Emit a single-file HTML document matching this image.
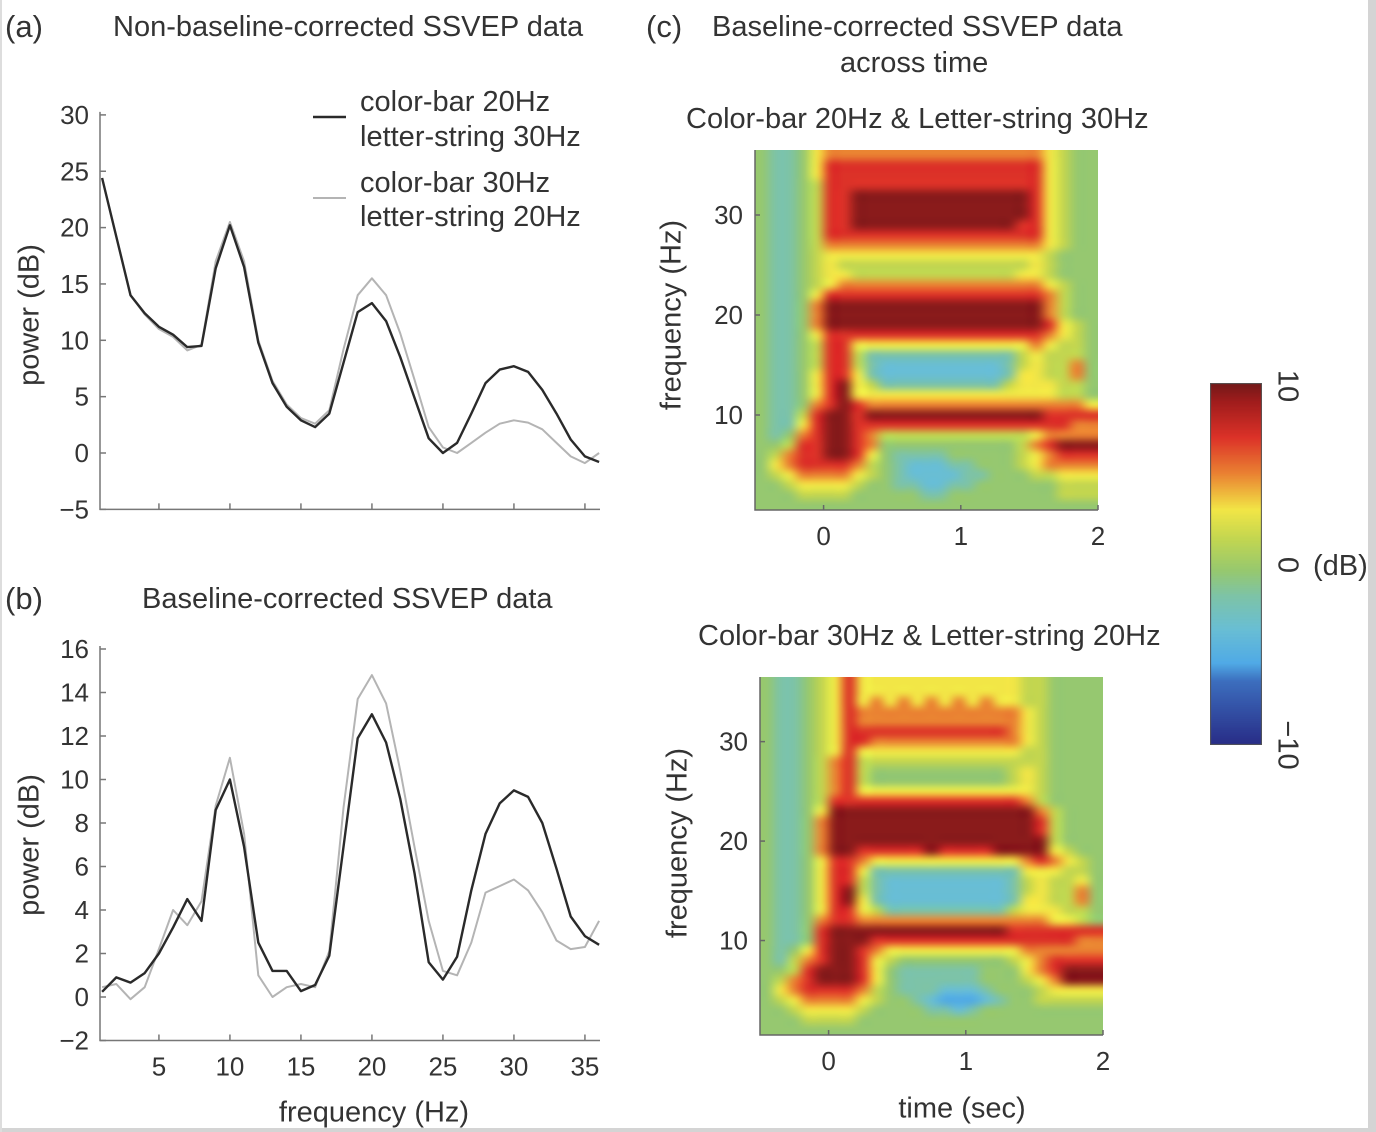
<!DOCTYPE html>
<html><head><meta charset="utf-8">
<style>
body{margin:0;background:#fff;}
#root{position:relative;width:1376px;height:1132px;overflow:hidden;background:#fff;font-family:"Liberation Sans",sans-serif;color:#333;}
.t{position:absolute;white-space:nowrap;font-size:29px;color:#333;}
canvas{position:absolute;}
svg{position:absolute;left:0;top:0;}
</style></head>
<body>
<div id="root">
<div style="position:absolute;left:1368px;top:0;width:8px;height:1132px;background:#d4d4d4"></div>
<div style="position:absolute;left:0;top:1128px;width:1376px;height:4px;background:#d4d4d4"></div>
<div style="position:absolute;left:0;top:0;width:2px;height:1132px;background:#ddd"></div>

<div class="t" style="left:5px;top:9px;font-size:31px">(a)</div>
<div class="t" style="left:113px;top:11px">Non-baseline-corrected SSVEP data</div>
<div class="t" style="left:5px;top:581px;font-size:31px">(b)</div>
<div class="t" style="left:142px;top:583px">Baseline-corrected SSVEP data</div>
<div class="t" style="left:646px;top:9px;font-size:31px">(c)</div>
<div class="t" style="left:712px;top:11px">Baseline-corrected SSVEP data</div>
<div class="t" style="left:840px;top:47px">across time</div>
<div class="t" style="left:686px;top:103px">Color-bar 20Hz &amp; Letter-string 30Hz</div>
<div class="t" style="left:698px;top:620px">Color-bar 30Hz &amp; Letter-string 20Hz</div>

<div class="t" style="left:360px;top:86px">color-bar 20Hz</div>
<div class="t" style="left:360px;top:121px">letter-string 30Hz</div>
<div class="t" style="left:360px;top:167px">color-bar 30Hz</div>
<div class="t" style="left:360px;top:201px">letter-string 20Hz</div>

<div class="t" style="left:30px;top:315px;transform:translate(-50%,-50%) rotate(-90deg)">power (dB)</div>
<div class="t" style="left:30px;top:845px;transform:translate(-50%,-50%) rotate(-90deg)">power (dB)</div>
<div class="t" style="left:374px;top:1113px;transform:translate(-50%,-50%)">frequency (Hz)</div>
<div class="t" style="left:672px;top:315px;transform:translate(-50%,-50%) rotate(-90deg)">frequency (Hz)</div>
<div class="t" style="left:678px;top:843px;transform:translate(-50%,-50%) rotate(-90deg)">frequency (Hz)</div>
<div class="t" style="left:962px;top:1109px;transform:translate(-50%,-50%)">time (sec)</div>

<div class="t" style="left:1287px;top:386px;transform:translate(-50%,-50%) rotate(90deg)">10</div>
<div class="t" style="left:1287px;top:565px;transform:translate(-50%,-50%) rotate(90deg)">0</div>
<div class="t" style="left:1287px;top:745px;transform:translate(-50%,-50%) rotate(90deg)">−10</div>
<div class="t" style="left:1313px;top:550px">(dB)</div>

<canvas id="hm1" width="343" height="360" style="left:755px;top:150px"></canvas>
<canvas id="hm2" width="343" height="358" style="left:760px;top:677px"></canvas>
<canvas id="cbar" width="52" height="362" style="left:1210px;top:383px"></canvas>

<svg id="svg" width="1376" height="1132"></svg>
</div>

<script>
// ---------- Line chart data ----------
const freqs = [1,2,3,4,5,6,7,8,9,10,11,12,13,14,15,16,17,18,19,20,21,22,23,24,25,26,27,28,29,30,31,32,33,34,35,36];
const rawBlack = [24.4,19.2,14.0,12.4,11.2,10.5,9.4,9.5,16.4,20.2,16.5,9.8,6.2,4.1,2.9,2.3,3.5,8.0,12.5,13.3,11.7,8.5,4.9,1.3,0.0,0.9,3.5,6.2,7.4,7.7,7.2,5.6,3.5,1.2,-0.3,-0.8];
const rawGrey  = [24.4,19.2,14.0,12.3,11.0,10.3,9.1,9.6,17.0,20.5,17.0,10.0,6.4,4.3,3.1,2.6,3.8,9.2,14.0,15.5,14.0,10.6,6.5,2.3,0.5,0.0,0.9,1.8,2.6,2.9,2.7,2.1,0.9,-0.3,-0.9,0.0];
const corrBlack = [0.24,0.9,0.66,1.1,2.0,3.2,4.5,3.5,8.6,10.0,6.9,2.5,1.2,1.2,0.27,0.55,1.9,6.9,11.9,13.0,11.7,9.1,5.7,1.6,0.8,1.85,4.9,7.5,8.9,9.5,9.2,8.0,5.9,3.7,2.8,2.4];
const corrGrey  = [0.45,0.6,-0.1,0.45,2.2,4.0,3.3,4.4,8.8,11.0,7.5,1.0,0.0,0.45,0.6,0.45,2.1,8.7,13.7,14.8,13.5,10.4,6.9,3.5,1.2,1.0,2.5,4.8,5.1,5.4,4.9,3.9,2.6,2.2,2.3,3.5];
const xTicks = [5,10,15,20,25,30,35];
const yTicksA = [-5,0,5,10,15,20,25,30];
const yTicksB = [-2,0,2,4,6,8,10,12,14,16];

// ---------- Heatmap data (rows: 36 Hz down to 1 Hz; cols: -0.5..2.0 s in 0.1 s bins; digit = level index into levelDb) ----------
const hmTimes = [-0.5, 2.0];
const hmFreqs = [1, 36];
const levelDb = [-5.5,-3.6,-1.8,-0.4,1.4,3,5,7,9.5];
const heatTop = [
"3223566666666666666665433","3223577777777777777775433","3223577777777777777775433","3223477777777777777775433",
"3223477888888888888875433","3223477888888888888875433","3223477888888888888875433","3223477888888888888775433",
"3223477777777777777775433","3223466666666666666665433","3223455555555555555554333","3223454444444444444454333",
"3223455444444444444554333","3223456666666666666665433","3223577777777777777776433","3223688888888888888886433",
"3223688888888888888886433","3223688888888888888887543","3223577777777777777776543","3223477555555555555565443",
"3223477422222222222454443","3223477421111111112454463","3223577521111111112554463","3223578542222222224555443",
"3223578555555555555555443","3223678766666666666666665","3224788788888888888887777","3225788777777777777777766",
"3236788764444444444456666","3347788763333333333467888","3467788753222233333456777","3567777643211122333456666",
"3456666543211112233344555","3345555433221122333333444","3334444333332233333333444","3333333333333333333333333"];
const heatBottom = [
"3223457555555555555443333","3223457555555555555443333","3223457565656565655443333","3223457666666666666543333",
"3223457666666666666543333","3223457777777777776543333","3223457766666666666543333","3223457555555555555443333",
"3223467444444444444443333","3223467433333333334543333","3223467433333333334543333","3223467555555555555543333",
"3223477777777777777643333","3223588888888888888864333","3223688888888888888874333","3223688888888888888874333",
"3223688888888888888884333","3223688777778777788885433","3223577655555555555676543","3223577522222222222555443",
"3223577421111111112454453","3223578421111111112454463","3223578521111111112554463","3223577542222222224555443",
"3223677666666666666665543","3223788888888888887777777","3223788877777777777777766","3235788765555555555666666",
"3246788754333333334567777","3347888753222222333567888","3467888753222222333456888","3567777643222111233345555",
"3456666543321000123344444","3345555433332212333333333","3334444333333333333333333","3333333333333333333333333"];

// ---------- colormap ----------
const stops=[[-10,[40,45,135]],[-6.5,[60,110,190]],[-5.5,[80,170,230]],[-3.6,[105,190,212]],[-1.8,[125,195,168]],[-0.4,[150,200,112]],[1.4,[195,214,80]],[3,[242,230,70]],[5,[234,130,50]],[7,[220,50,40]],[9,[160,28,28]],[10,[115,25,25]]];
function cmap(v){
  if(v<=stops[0][0])return stops[0][1];
  for(let i=1;i<stops.length;i++){
    if(v<=stops[i][0]){const a=stops[i-1],b=stops[i];const t=(v-a[0])/(b[0]-a[0]);
      return a[1].map((c,k)=>Math.round(c+(b[1][k]-c)*t));}
  }
  return stops[stops.length-1][1];
}
function drawHeat(id,rows){
  const cv=document.getElementById(id),ctx=cv.getContext('2d');
  const nc=25,nr=rows.length;
  const off=document.createElement('canvas');off.width=nc;off.height=nr;
  const octx=off.getContext('2d');const img=octx.createImageData(nc,nr);
  for(let r=0;r<nr;r++){const s=rows[r];for(let c=0;c<nc;c++){
    const d=parseInt(s[Math.min(c,s.length-1)]);const col=cmap(levelDb[d]);
    const p=(r*nc+c)*4;img.data[p]=col[0];img.data[p+1]=col[1];img.data[p+2]=col[2];img.data[p+3]=255;}}
  octx.putImageData(img,0,0);
  ctx.imageSmoothingEnabled=true;ctx.imageSmoothingQuality='high';
  ctx.drawImage(off,0,0,cv.width,cv.height);
}
drawHeat('hm1',heatTop);
drawHeat('hm2',heatBottom);
(function(){const cv=document.getElementById('cbar'),ctx=cv.getContext('2d');
  for(let y=0;y<cv.height;y++){const v=10-20*y/(cv.height-1);const c=cmap(v);ctx.fillStyle=`rgb(${c[0]},${c[1]},${c[2]})`;ctx.fillRect(0,y,cv.width,1);}
  ctx.strokeStyle='#555';ctx.lineWidth=1;ctx.strokeRect(0.5,0.5,cv.width-1,cv.height-1);})();

// ---------- SVG helpers ----------
const NS='http://www.w3.org/2000/svg';
const svg=document.getElementById('svg');
function mk(tag,attrs,parent){const e=document.createElementNS(NS,tag);for(const k in attrs)e.setAttribute(k,attrs[k]);(parent||svg).appendChild(e);return e;}
function txt(x,y,s,anchor,parent){const e=mk('text',{x:x,y:y,'text-anchor':anchor,'font-family':'Liberation Sans, sans-serif','font-size':26,fill:'#333'},parent);e.textContent=s;return e;}

const xA=f=>100+(f-0.85)*14.2;
function lineChart(name,y0px,pxPerUnit,yMin,yMax,yTicks,series,showXLabels){
  const g=mk('g',{});
  
  
  const yS=v=>y0px-v*pxPerUnit;
  const top=yS(yMax)-3,bot=yS(yMin);
  const ax=mk('path',{d:`M100,${top} V${bot} H600`,stroke:'#777','stroke-width':1.5,fill:'none'},g);
  
  
  yTicks.forEach(v=>{
    const tk=mk('line',{x1:100,x2:106,y1:yS(v),y2:yS(v),stroke:'#777','stroke-width':1.5},g);
    
    
    const lb=txt(89,yS(v)+9,v<0?'−'+Math.abs(v):String(v),'end',g);
    
    
  });
  xTicks.forEach(f=>{
    const tk=mk('line',{x1:xA(f),x2:xA(f),y1:bot,y2:bot-6,stroke:'#777','stroke-width':1.5},g);
    
    
    if(showXLabels){const lb=txt(xA(f),bot+35,String(f),'middle',g);
      
      }
  });
  series.forEach(s=>{
    const d=freqs.map((f,i)=>(i?'L':'M')+xA(f).toFixed(1)+','+yS(s.vals[i]).toFixed(1)).join(' ');
    const p=mk('path',{d:d,stroke:s.color,'stroke-width':s.w,fill:'none','stroke-linejoin':'round'},g);
    
    
  });
}
lineChart('chart-a',453,11.27,-5,30,yTicksA,[
  {name:'series-colorbar30-a',vals:rawGrey,color:'#b4b4b4',w:2},
  {name:'series-colorbar20-a',vals:rawBlack,color:'#2a2a2a',w:2.4}],false);
lineChart('chart-b',997,21.75,-2,16,yTicksB,[
  {name:'series-colorbar30-b',vals:corrGrey,color:'#b4b4b4',w:2},
  {name:'series-colorbar20-b',vals:corrBlack,color:'#2a2a2a',w:2.4}],true);

const l1=mk('line',{x1:313,x2:346,y1:117,y2:117,stroke:'#2a2a2a','stroke-width':2.4});


const l2=mk('line',{x1:313,x2:346,y1:198,y2:198,stroke:'#b4b4b4','stroke-width':2});



// heatmap axes
const hmTimeTicks=[0,1,2];
const hmFreqTicks=[10,20,30];
function hmAxes(name,left,top,w,h){
  const g=mk('g',{});
  
  
  const tx=t=>left+(t-hmTimes[0])/(hmTimes[1]-hmTimes[0])*w;
  const fy=f=>top+h-(f-hmFreqs[0]+0.5)/(hmFreqs[1]-hmFreqs[0]+1)*h;
  const ax=mk('path',{d:`M${left},${top} V${top+h} H${left+w}`,stroke:'#666','stroke-width':1.5,fill:'none'},g);
  
  
  hmTimeTicks.forEach(t=>{
    const tk=mk('line',{x1:tx(t),x2:tx(t),y1:top+h,y2:top+h-5,stroke:'#666','stroke-width':1.5},g);
    
    
    const lb=txt(tx(t),top+h+35,String(t),'middle',g);
    
    
  });
  hmFreqTicks.forEach(f=>{
    const tk=mk('line',{x1:left,x2:left+5,y1:fy(f),y2:fy(f),stroke:'#666','stroke-width':1.5},g);
    
    
    const lb=txt(left-12,fy(f)+9,String(f),'end',g);
    
    
  });
}
hmAxes('heatmap-top-axes',755,150,343,360);
hmAxes('heatmap-bottom-axes',760,677,343,358);
</script>
</body></html>
